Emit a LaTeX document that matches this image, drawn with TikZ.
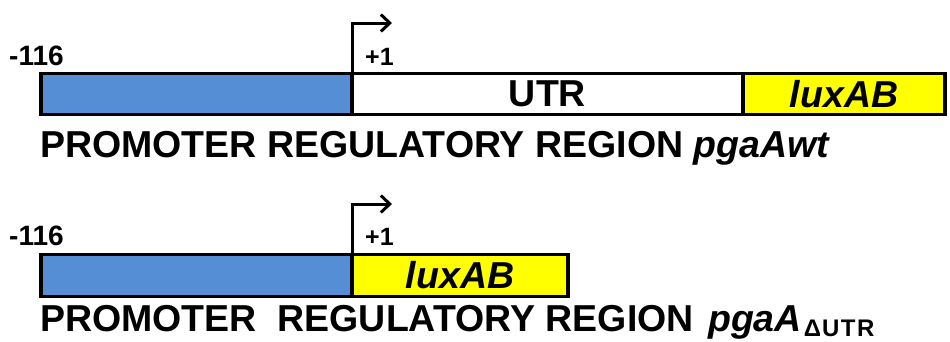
\documentclass[tikz,border=0pt]{standalone}
\usepackage{fontspec}
\setmainfont{Liberation Sans}
\usetikzlibrary{arrows.meta}
\definecolor{promblue}{RGB}{85,142,213}
\definecolor{luxyellow}{RGB}{255,255,0}
\begin{document}
\begin{tikzpicture}[x=1pt,y=-1pt,
  seg/.style={draw=black,line width=3.2pt,inner sep=0pt,outer sep=0pt,anchor=north west,
    font=\fontsize{37.5}{40}\selectfont\bfseries},
  small/.style={inner sep=0pt,anchor=base west,font=\fontsize{28}{30}\selectfont\bfseries},
  big/.style={inner sep=0pt,anchor=base west,font=\fontsize{37.5}{40}\selectfont\bfseries},
  tss/.style={line width=3pt,-{Straight Barb[length=9pt,width=17pt,line width=3pt]}}]
\useasboundingbox (0,0) rectangle (950,341);
% top construct
\node[seg,fill=promblue,minimum width=311pt,minimum height=41pt] (p1) at (41,73.5) {};
\node[seg,fill=white,minimum width=391pt,minimum height=41pt] (u1) at (352,73.5) {UTR};
\node[seg,fill=luxyellow,minimum width=202pt,minimum height=41pt] (l1) at (743,73.5) {\itshape luxAB};
\coordinate (t1) at (392,23);
\draw[tss] (p1.north east) |- (t1);
\node[small] (m1) at (9,65) {-116};
\node[small,font=\fontsize{25}{28}\selectfont\bfseries] (s1) at (365,65) {+1};
\node[big] (r1) at (40,157) {PROMOTER REGULATORY REGION \textit{pgaAwt}};
% bottom construct
\node[seg,fill=promblue,minimum width=311pt,minimum height=42pt] (p2) at (41,254.5) {};
\node[seg,fill=luxyellow,minimum width=216pt,minimum height=42pt] (l2) at (352,254.5) {\itshape luxAB};
\coordinate (t2) at (392,204);
\draw[tss] (p2.north east) |- (t2);
\node[small] (m2) at (9,245) {-116};
\node[small,font=\fontsize{25}{28}\selectfont\bfseries] (s2) at (365,245) {+1};
\node[big] (r2) at (40,331) {PROMOTER\ \ REGULATORY REGION \kern4pt\textit{pgaA}\raisebox{-5pt}{\fontsize{24}{26}\selectfont\kern2ptΔ\kern1ptU\kern1.5ptT\kern1.5ptR}};
\end{tikzpicture}
\end{document}
